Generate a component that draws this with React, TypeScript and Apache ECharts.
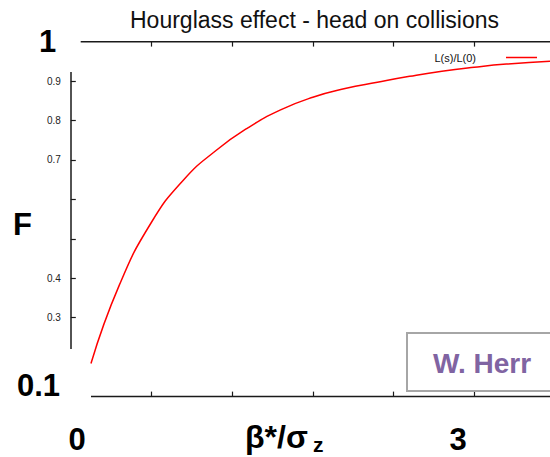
import React, { useEffect, useRef } from "react";
import * as echarts from "echarts";

// beta*/sigma_z (x) and luminosity reduction factor L(s)/L(0) (y)
const betaRatio = [0.125, 0.3, 0.5, 0.7, 0.9, 1.1, 1.3, 1.5, 1.7, 1.9, 2.1, 2.3, 2.5, 2.7, 2.97];
const lumiRatio = [0.184, 0.382, 0.542, 0.65, 0.724, 0.782, 0.827, 0.859, 0.881, 0.897, 0.912, 0.925, 0.935, 0.943, 0.95];
const xTickValues = [0.5, 1, 1.5, 2, 2.5];
const yTickValues = [0.3, 0.4, 0.5, 0.6, 0.7, 0.8, 0.9];
const yLabelValues = [0.3, 0.4, 0.7, 0.8, 0.9];
const seriesName = "L(s)/L(0)";
const titleText = "Hourglass effect - head on collisions";

const SANS = "'Liberation Sans', Arial, sans-serif";
const AXIS = "#1a1a1a";

export default function App() {
  const ref = useRef<HTMLDivElement>(null);
  useEffect(() => {
    if (!ref.current) return;
    const chart = echarts.init(ref.current, null, { renderer: "svg" });
    const data = betaRatio.map((x, i) => [x, lumiRatio[i]]);
    const boldText = (text: string, x: number, y: number, align: string = "left", fontSize: number = 31) => ({
      type: "text",
      x,
      y,
      z: 50,
      style: {
        text,
        fontFamily: SANS,
        fontWeight: "bold",
        fontSize,
        fill: "#000",
        align,
        verticalAlign: "middle",
      },
    });
    chart.setOption({
      animation: false,
      backgroundColor: "#fff",
      title: {
        text: titleText,
        left: 125,
        top: 3,
        textStyle: { fontSize: 23, fontWeight: "normal", fontFamily: SANS, color: "#111" },
      },
      legend: {
        data: [{ name: seriesName, icon: "rect" }],
        align: "right",
        right: 8,
        top: 47,
        itemWidth: 31,
        itemHeight: 1.5,
        textStyle: { fontSize: 11, fontFamily: SANS, color: "#111", padding: [0, 25, 0, 0] },
      },
      grid: { left: 70.8, right: 0, top: 41.6, bottom: 60.4, containLabel: false, outerBoundsMode: "none" },
      xAxis: [
        {
          type: "value",
          min: 0,
          max: 2.97,
          position: "bottom",
          axisLine: { show: false },
          splitLine: { show: false },
          axisLabel: { show: false },
          axisTick: { show: true, inside: true, length: 5, customValues: xTickValues, lineStyle: { color: AXIS, width: 1.2 } },
        },
        {
          type: "value",
          min: 0,
          max: 2.97,
          position: "top",
          axisLine: { show: false },
          splitLine: { show: false },
          axisLabel: { show: false },
          axisTick: { show: true, inside: true, length: 5, customValues: xTickValues, lineStyle: { color: AXIS, width: 1.2 } },
        },
      ],
      yAxis: {
        type: "value",
        min: 0.1,
        max: 1.0,
        axisLine: { show: false },
        splitLine: { show: false },
        axisTick: { show: true, inside: true, length: 5, customValues: yTickValues, lineStyle: { color: AXIS, width: 1.2 } },
        axisLabel: {
          customValues: yLabelValues,
          fontSize: 10,
          fontFamily: SANS,
          color: "#222",
          margin: 10,
          formatter: (v: number) => v.toFixed(1),
        },
      },
      series: [
        {
          name: seriesName,
          type: "line",
          data,
          smooth: 0.5,
          showSymbol: false,
          color: "#ff0000",
          lineStyle: { color: "#ff0000", width: 1.5 },
        },
      ],
      graphic: [
        { type: "line", z: 40, shape: { x1: 80.7, y1: 41.7, x2: 550, y2: 41.7 }, style: { stroke: AXIS, lineWidth: 1.5 } },
        { type: "line", z: 40, shape: { x1: 91, y1: 396.6, x2: 550, y2: 396.6 }, style: { stroke: AXIS, lineWidth: 1.5 } },
        { type: "line", z: 40, shape: { x1: 71, y1: 72, x2: 71, y2: 349 }, style: { stroke: AXIS, lineWidth: 1.5 } },
        boldText("1", 47.5, 41.5, "center"),
        boldText("F", 13, 224),
        boldText("0.1", 17, 385),
        boldText("0", 77, 439, "center"),
        boldText("3", 458, 439, "center"),
        boldText("β*/σ", 245, 437, "left", 32),
        boldText("z", 313, 444, "left", 21),
        {
          type: "rect",
          z: 60,
          shape: { x: 407, y: 333, width: 160, height: 58 },
          style: { fill: "#fff", stroke: "#a6a6a6", lineWidth: 2 },
        },
        {
          type: "text",
          z: 61,
          x: 433,
          y: 363,
          style: {
            text: "W. Herr",
            fontFamily: SANS,
            fontWeight: "bold",
            fontSize: 28,
            fill: "#8064a2",
            align: "left",
            verticalAlign: "middle",
          },
        },
      ],
    });
    return () => chart.dispose();
  }, []);
  return <div ref={ref} style={{ position: "fixed", left: 0, top: 0, width: 550, height: 457 }} />;
}
